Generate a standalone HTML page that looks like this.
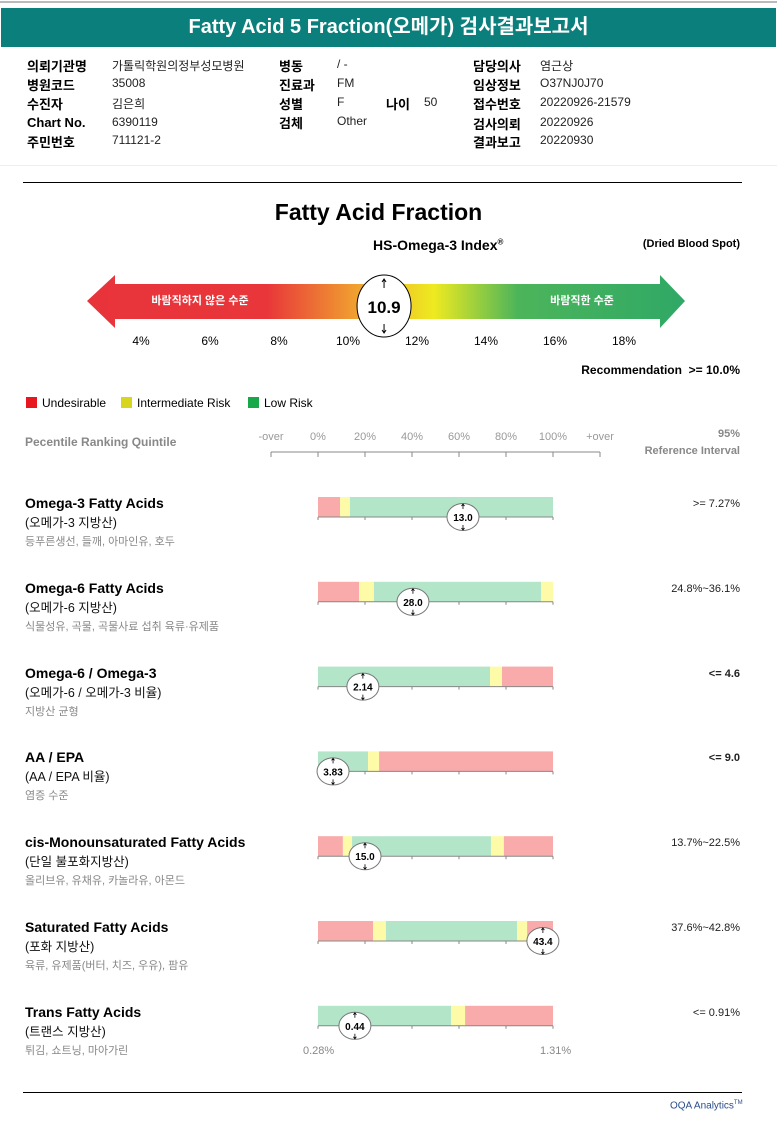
<!DOCTYPE html>
<html><head><meta charset="utf-8">
<style>
*{margin:0;padding:0;box-sizing:border-box}
body{width:777px;height:1130px;background:#fff;position:relative;overflow:hidden;font-family:"Liberation Sans","Noto Sans CJK KR",sans-serif;color:#000}
.a{position:absolute;white-space:nowrap}
.lb{font-weight:bold;font-size:13px}
.v{font-size:12px;color:#222}
.ttl{font-weight:bold;font-size:14px}
.sub{font-size:12.5px;color:#111}
.fd{font-size:11px;color:#888}
.ref{font-size:11px;color:#222;right:37px}
</style></head><body>
<div class="a" style="left:0;top:1px;width:777px;height:2px;background:#bbb"></div>
<div class="a" style="left:1px;top:8px;width:775px;height:39px;background:#0b7f7b;color:#fff;font-size:20px;font-weight:bold;text-align:center;line-height:39px">Fatty Acid 5 Fraction(오메가) 검사결과보고서</div>

<div>
<div class="a lb" style="left:27px;top:56px">의뢰기관명</div><div class="a v" style="left:112px;top:57px">가톨릭학원의정부성모병원</div>
<div class="a lb" style="left:27px;top:75px">병원코드</div><div class="a v" style="left:112px;top:76px">35008</div>
<div class="a lb" style="left:27px;top:94px">수진자</div><div class="a v" style="left:112px;top:95px">김은희</div>
<div class="a lb" style="left:27px;top:115px">Chart No.</div><div class="a v" style="left:112px;top:115px">6390119</div>
<div class="a lb" style="left:27px;top:132px">주민번호</div><div class="a v" style="left:112px;top:133px">711121-2</div>
<div class="a lb" style="left:279px;top:56px">병동</div><div class="a v" style="left:337px;top:57px">/ -</div>
<div class="a lb" style="left:279px;top:75px">진료과</div><div class="a v" style="left:337px;top:76px">FM</div>
<div class="a lb" style="left:279px;top:94px">성별</div><div class="a v" style="left:337px;top:95px">F</div>
<div class="a lb" style="left:386px;top:94px">나이</div><div class="a v" style="left:424px;top:95px">50</div>
<div class="a lb" style="left:279px;top:113px">검체</div><div class="a v" style="left:337px;top:114px">Other</div>
<div class="a lb" style="left:473px;top:56px">담당의사</div><div class="a v" style="left:540px;top:57px">염근상</div>
<div class="a lb" style="left:473px;top:75px">임상정보</div><div class="a v" style="left:540px;top:76px">O37NJ0J70</div>
<div class="a lb" style="left:473px;top:94px">접수번호</div><div class="a v" style="left:540px;top:95px">20220926-21579</div>
<div class="a lb" style="left:473px;top:114px">검사의뢰</div><div class="a v" style="left:540px;top:115px">20220926</div>
<div class="a lb" style="left:473px;top:132px">결과보고</div><div class="a v" style="left:540px;top:133px">20220930</div>
</div>
<div class="a" style="left:0;top:165px;width:777px;height:1px;background:#eee"></div>
<div class="a" style="left:23px;top:182px;width:719px;height:1px;background:#000"></div>

<div class="a" style="left:0;width:757px;top:199px;text-align:center;font-size:23px;font-weight:bold">Fatty Acid Fraction</div>
<div class="a" style="left:373px;top:237px;font-size:14px;font-weight:bold">HS-Omega-3 Index<sup style="font-size:8px">®</sup></div>
<div class="a" style="right:37px;top:238px;font-size:11px;font-weight:bold">(Dried Blood Spot)</div>

<svg class="a" style="left:0;top:0" width="777" height="1130">
<defs><linearGradient id="g" x1="87" x2="685" y1="0" y2="0" gradientUnits="userSpaceOnUse">
<stop offset="0" stop-color="#e8333b"/><stop offset="0.3" stop-color="#e8363a"/><stop offset="0.45" stop-color="#f0a030"/><stop offset="0.58" stop-color="#eeea20"/><stop offset="0.72" stop-color="#4cb55a"/><stop offset="1" stop-color="#2fa866"/></linearGradient></defs>
<polygon points="87,301 115,275 115,284 660,284 660,275 685,301 660,328 660,319 115,319 115,328" fill="url(#g)"/>
<text x="200" y="304" fill="#fff" font-size="11" font-weight="bold" text-anchor="middle" font-family="Liberation Sans, Noto Sans CJK KR, sans-serif">바람직하지 않은 수준</text>
<text x="582" y="304" fill="#fff" font-size="11" font-weight="bold" text-anchor="middle" font-family="Liberation Sans, Noto Sans CJK KR, sans-serif">바람직한 수준</text>
<g id="idx"></g>
<g id="pax"></g>
<g id="bars"></g>
</svg>

<div class="a" style="right:37px;top:363px;font-size:12px;font-weight:bold">Recommendation &nbsp;&gt;= 10.0%</div>
<div>
<div class="a" style="left:26px;top:396px;font-size:12px"><span style="display:inline-block;width:11px;height:11px;background:#e8161f;vertical-align:-1px;margin-right:5px"></span>Undesirable</div>
<div class="a" style="left:121px;top:396px;font-size:12px"><span style="display:inline-block;width:11px;height:11px;background:#d7d51d;vertical-align:-1px;margin-right:5px"></span>Intermediate Risk</div>
<div class="a" style="left:248px;top:396px;font-size:12px"><span style="display:inline-block;width:11px;height:11px;background:#18a84a;vertical-align:-1px;margin-right:5px"></span>Low Risk</div>
</div>
<div class="a" style="left:25px;top:435px;font-size:12px;font-weight:bold;color:#888">Pecentile Ranking Quintile</div>
<div class="a" style="right:37px;top:426px;font-size:11px;font-weight:bold;color:#888;text-align:right;line-height:17px">95%<br>Reference Interval</div>

<div id="rows"></div>
<div class="a" style="left:303px;top:1045px;font-size:11px;color:#888">0.28%</div>
<div class="a" style="left:540px;top:1045px;font-size:11px;color:#888">1.31%</div>
<div class="a" style="left:23px;top:1092px;width:719px;height:1px;background:#000"></div>
<div class="a" style="left:670px;top:1100px;font-size:10px;color:#2a4d8a">OQA Analytics<sup style="font-size:6px">TM</sup></div>

<script>
// HS-Omega-3 index
const idxTicks=[4,6,8,10,12,14,16,18];
const idxValue=10.9;
// percentile axis
const pctLabels=["-over","0%","20%","40%","60%","80%","100%","+over"];
// rows
const names=["Omega-3 Fatty Acids","Omega-6 Fatty Acids","Omega-6 / Omega-3","AA / EPA","cis-Monounsaturated Fatty Acids","Saturated Fatty Acids","Trans Fatty Acids"];
const subs=["(오메가-3 지방산)","(오메가-6 지방산)","(오메가-6 / 오메가-3 비율)","(AA / EPA 비율)","(단일 불포화지방산)","(포화 지방산)","(트랜스 지방산)"];
const foods=["등푸른생선, 들깨, 아마인유, 호두","식물성유, 곡물, 곡물사료 섭취 육류·유제품","지방산 균형","염증 수준","올리브유, 유채유, 카놀라유, 아몬드","육류, 유제품(버터, 치즈, 우유), 팜유","튀김, 쇼트닝, 마아가린"];
const refs=[">= 7.27%","24.8%~36.1%","<= 4.6","<= 9.0","13.7%~22.5%","37.6%~42.8%","<= 0.91%"];
const refBold=[false,false,true,true,false,false,false];
// zone colours per row (r=red,y=yellow,g=green) and zone end points in percentile (0-100)
const zoneColors=[["r","y","g"],["r","y","g","y"],["g","y","r"],["g","y","r"],["r","y","g","y","r"],["r","y","g","y","r"],["g","y","r"]];
const zoneEnds=[[9.4,13.6,100],[17.5,23.8,94.9,100],[73.2,78.3,100],[21.3,26,100],[10.6,14.5,73.6,79.1,100],[23.4,28.9,84.7,89,100],[56.6,62.6,100]];
const values=["13.0","28.0","2.14","3.83","15.0","43.4","0.44"];
const valuePct=[61.7,40.4,19.1,6.4,20,95.7,15.7];

const NS="http://www.w3.org/2000/svg";
function mk(tag,attrs,parent){const e=document.createElementNS(NS,tag);for(const k in attrs)e.setAttribute(k,attrs[k]);parent.appendChild(e);return e;}
const xi=v=>141+(v-4)*(624-141)/14;
const xp=p=>318+p*2.35;
const idx=document.getElementById('idx');
idxTicks.forEach(t=>{const e=mk('text',{x:xi(t),y:345,'font-size':12,'text-anchor':'middle','font-family':'Liberation Sans, sans-serif'},idx);e.textContent=t+'%';

});
const cx=xi(idxValue)+5;
const ell=mk('ellipse',{cx:cx,cy:306,rx:27,ry:31,fill:'#fff',stroke:'#000','stroke-width':1},idx);


const iv=mk('text',{x:cx,y:313,'font-size':17,'font-weight':'bold','text-anchor':'middle','font-family':'Liberation Sans, sans-serif'},idx);iv.textContent=idxValue.toFixed(1);


mk('path',{d:`M${cx} 279v9M${cx-2} 282l2-3 2 3M${cx} 324v9M${cx-2} 330l2 3 2-3`,stroke:'#000','stroke-width':1,fill:'none'},idx);

const pax=document.getElementById('pax');
const ax=mk('path',{d:'M271 452H600',stroke:'#888','stroke-width':1},pax);


pctLabels.forEach((l,i)=>{const x=271+i*47;mk('path',{d:`M${x} 452v5`,stroke:'#888'},pax);
const e=mk('text',{x:x,y:440,'font-size':11,fill:'#999','text-anchor':'middle','font-family':'Liberation Sans, sans-serif'},pax);e.textContent=l;

});

const col={r:'#f9aaaa',y:'#fdfba8',g:'#b3e5c9'};
const bars=document.getElementById('bars');
const rows=document.getElementById('rows');
names.forEach((n,i)=>{
  const top=497+i*84.8;
  const g=mk('g',{},bars);
  
  
  let s=0;
  zoneEnds[i].forEach((e,j)=>{const r=mk('rect',{x:xp(s),y:top,width:xp(e)-xp(s),height:20,fill:col[zoneColors[i][j]]},g);
    
    s=e;});
  let d=`M${xp(0)} ${top+20}H${xp(100)}`;for(let k=0;k<=5;k++)d+=`M${xp(k*20)} ${top+20}v3`;
  mk('path',{d:d,stroke:'#888','stroke-width':1,fill:'none'},g);
  const mx=xp(valuePct[i]),my=top+20;
  const el=mk('ellipse',{cx:mx,cy:my,rx:16,ry:13.5,fill:'#fff',stroke:'#777','stroke-width':1},g);
  
  
  mk('path',{d:`M${mx} ${my-13}v5M${mx-1.5} ${my-11}l1.5-2 1.5 2M${mx} ${my+8}v5M${mx-1.5} ${my+11}l1.5 2 1.5-2`,stroke:'#000','stroke-width':0.8,fill:'none'},g);
  const t=mk('text',{x:mx,y:my+4,'font-size':10,'font-weight':'bold','text-anchor':'middle','font-family':'Liberation Sans, sans-serif'},g);t.textContent=values[i];
  
  
  const d1=document.createElement('div');d1.className='a ttl';d1.style.left='25px';d1.style.top=(top-2)+'px';d1.textContent=n;
  
  rows.appendChild(d1);
  const d2=document.createElement('div');d2.className='a sub';d2.style.left='25px';d2.style.top=(top+15)+'px';d2.textContent=subs[i];
  
  rows.appendChild(d2);
  const d3=document.createElement('div');d3.className='a fd';d3.style.left='25px';d3.style.top=(top+36)+'px';d3.textContent=foods[i];
  
  rows.appendChild(d3);
  const d4=document.createElement('div');d4.className='a ref';d4.style.top=(top+1)+'px';d4.textContent=refs[i];if(refBold[i])d4.style.fontWeight='bold';
  
  rows.appendChild(d4);
});
</script>
</body></html>
